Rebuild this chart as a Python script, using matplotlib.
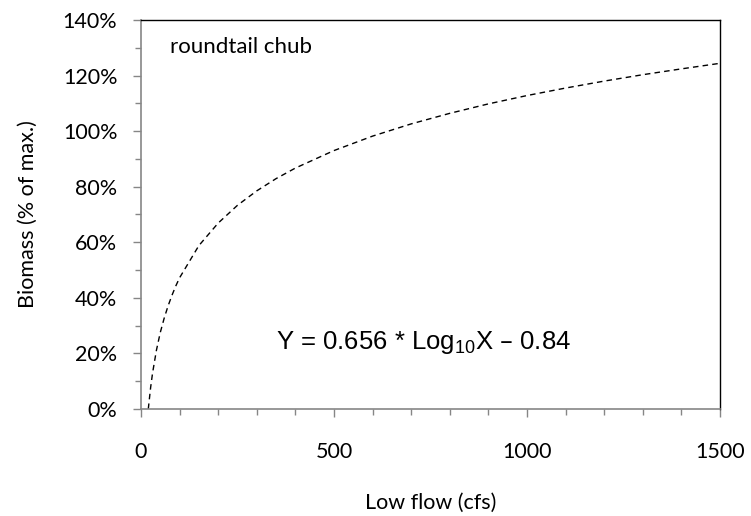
import numpy as np
import matplotlib.pyplot as plt
from matplotlib.ticker import MultipleLocator, FuncFormatter

# values
low_flow = [19, 25, 30, 40, 50, 60, 70, 80, 90, 100,
            150, 200, 250, 300, 350, 400, 500, 600, 700, 800, 900, 1000,
            1100, 1200, 1300, 1400, 1500]
biomass = [0.0, 0.077, 0.129, 0.211, 0.275, 0.326, 0.370, 0.408, 0.442, 0.472,
           0.588, 0.669, 0.733, 0.785, 0.829, 0.867, 0.930, 0.982, 1.026,
           1.064, 1.098, 1.128, 1.155, 1.180, 1.203, 1.224, 1.244]

species = 'roundtail chub'
equation = r'Y = 0.656 * Log$_{10}$X – 0.84'

plt.rcParams['font.family'] = ['Lato', 'DejaVu Sans']
plt.rcParams['mathtext.default'] = 'regular'

fig = plt.figure(figsize=(7.51, 5.16), dpi=100, facecolor='white')
ax = fig.add_axes([0.1877, 0.2074, 0.771, 0.7539])

ax.plot(low_flow, biomass, color='black', lw=1.0, ls=(0, (4, 3)))

ax.set_xlim(0, 1500)
ax.set_ylim(0, 1.4)
ax.xaxis.set_major_locator(MultipleLocator(500))
ax.xaxis.set_minor_locator(MultipleLocator(100))
ax.yaxis.set_major_locator(MultipleLocator(0.2))
ax.yaxis.set_minor_locator(MultipleLocator(0.1))
ax.yaxis.set_major_formatter(FuncFormatter(lambda v, p: f'{v*100:.0f}%'))

for s in ['left', 'bottom']:
    ax.spines[s].set_color('#868686')
    ax.spines[s].set_linewidth(1.2)
for s in ['top', 'right']:
    ax.spines[s].set_color('black')
    ax.spines[s].set_linewidth(1.0)

ax.tick_params(axis='both', which='major', direction='out', length=6,
               color='#868686', width=1.0, labelsize=15.5)
ax.tick_params(axis='both', which='minor', direction='out', length=4,
               color='#868686', width=1.0)
ax.tick_params(axis='y', pad=11)
ax.tick_params(axis='x', pad=18)

ax.set_xlabel('Low flow (cfs)', fontsize=15.5, labelpad=22)
ax.set_ylabel('Biomass (% of max.)', fontsize=15.5, labelpad=18)

ax.text(0.05, 0.93, species, transform=ax.transAxes, fontsize=16,
        ha='left', va='center')
ax.text(0.488, 0.17, equation, transform=ax.transAxes, fontsize=18.5,
        ha='center', va='center', family=['Liberation Sans', 'DejaVu Sans'])

plt.savefig('out.png', dpi=100)
